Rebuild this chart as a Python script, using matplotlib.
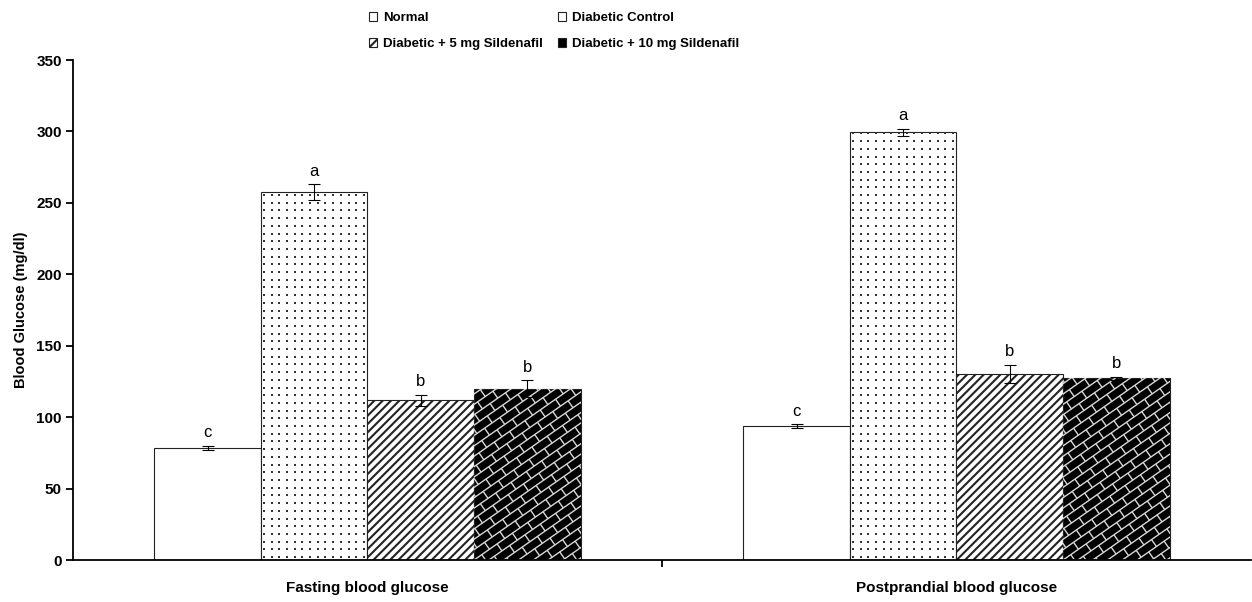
import numpy as np
import matplotlib
matplotlib.use("Agg")
import matplotlib.pyplot as plt
from matplotlib.collections import LineCollection
from matplotlib.transforms import IdentityTransform

plt.rcParams['font.family'] = ['Liberation Sans', 'DejaVu Sans']
plt.rcParams['hatch.linewidth'] = 1.5

groups = ['Fasting blood glucose', 'Postprandial blood glucose']
treatments = ['Normal', 'Diabetic Control',
              'Diabetic + 5 mg Sildenafil', 'Diabetic + 10 mg Sildenafil']

# mean blood glucose (mg/dl) and SE per treatment, [fasting, postprandial]
normal = [78.5, 93.8]
normal_se = [1.6, 1.3]
control = [257.5, 299.5]
control_se = [5.6, 2.4]
sild5 = [111.8, 130.2]
sild5_se = [3.9, 6.5]
sild10 = [119.8, 127.2]
sild10_se = [6.0, 1.1]
letters = [['c', 'c'], ['a', 'a'], ['b', 'b'], ['b', 'b']]

means = [normal, control, sild5, sild10]
errors = [normal_se, control_se, sild5_se, sild10_se]
hatches = [None, None, '////', None]
faces = ['white', 'white', 'white', 'black']


def dot_texture(ax, bar, step=7.7):
    # small dark dots on a square pixel grid, clipped to the bar
    bb = bar.get_window_extent()
    xs = np.arange(bb.x0 + 3, bb.x1, step)
    ys = np.arange(bb.y0 + 3, bb.y1, step)
    gx, gy = np.meshgrid(xs, ys)
    pts, = ax.plot(gx.ravel(), gy.ravel(), ls='none', marker='s', ms=1.5,
                   mew=0, color='#333333', transform=IdentityTransform(),
                   zorder=2.5)
    pts.set_clip_path(bar)


def brick_texture(ax, bar, step=8.5, angle=35):
    # white diagonal-brick lines drawn in pixel space, clipped to the bar
    bb = bar.get_window_extent()
    diag = np.hypot(bb.width, bb.height) + 4 * step
    a = np.deg2rad(angle)
    d = np.array([np.cos(a), np.sin(a)])
    nrm = np.array([-np.sin(a), np.cos(a)])
    origin = np.array([bb.x0, bb.y0])
    brick = 2.2 * step
    n = int(diag / step) + 2
    segs = []
    for k in range(-n, n + 1):
        p0 = origin + k * step * nrm
        segs.append([p0 - diag * d, p0 + diag * d])
        shift = (k % 2) * brick / 2
        for j in range(-n, n + 1):
            q = p0 + (j * brick + shift) * d
            segs.append([q, q + step * nrm])
    lc = LineCollection(segs, colors='#d8d8d8', linewidths=1.0,
                        transform=IdentityTransform(), zorder=2.5)
    ax.add_collection(lc, autolim=False)
    lc.set_clip_path(bar)


fig = plt.figure(figsize=(12.52, 6.02), dpi=100)
ax = fig.add_axes([73 / 1252, 42 / 602, 1178 / 1252, 500 / 602])

x = np.arange(len(groups))
width = 0.181
bar_sets = []
for i, name in enumerate(treatments):
    pos = x + (i - 1.5) * width
    bars = ax.bar(pos, means[i], width, color=faces[i], edgecolor='#222222',
                  linewidth=0.8, hatch=hatches[i], label=name, zorder=2)
    bar_sets.append(bars)
    ax.errorbar(pos, means[i], yerr=errors[i], fmt='none', ecolor='black',
                elinewidth=0.8, capsize=4, capthick=0.8, zorder=4)
    for j in range(len(groups)):
        ax.annotate(letters[i][j], (pos[j], means[i][j] + errors[i][j]),
                    xytext=(0, 4), textcoords='offset points',
                    ha='center', va='bottom', fontsize=12)

ax.set_xlim(-0.5, 1.5)
ax.set_ylim(0, 350)
ax.set_yticks(np.arange(0, 351, 50))

for bar in bar_sets[1]:
    dot_texture(ax, bar)
for bar in bar_sets[3]:
    brick_texture(ax, bar)

ax.spines['top'].set_visible(False)
ax.spines['right'].set_visible(False)
ax.spines['left'].set_linewidth(1.3)
ax.spines['bottom'].set_linewidth(1.3)

ax.set_xticks([0.5])
ax.set_xticklabels([''])
ax.set_xticks(x, minor=True)
ax.set_xticklabels(groups, minor=True, fontsize=11, fontweight='bold')
ax.tick_params(axis='x', which='major', direction='out', length=5, width=1.3)
ax.tick_params(axis='x', which='minor', length=0, pad=15)
ax.tick_params(axis='y', direction='out', length=5, width=1.3, pad=3,
               labelsize=11)
for lab in ax.get_yticklabels():
    lab.set_fontweight('bold')

ax.set_ylabel('Blood Glucose (mg/dl)', fontsize=10.5, fontweight='bold',
              labelpad=6)

# legend filled row by row: Normal, Control / 5 mg, 10 mg
handles, labels = ax.get_legend_handles_labels()
order = [0, 2, 1, 3]
fig.legend([handles[k] for k in order], [labels[k] for k in order],
           loc='upper left', bbox_to_anchor=(0.285, 1.0), ncol=2,
           frameon=False, prop={'size': 9.5, 'weight': 'bold'},
           handlelength=0.65, handleheight=0.65, handletextpad=0.45,
           columnspacing=1.1, labelspacing=1.1)

fig.savefig('out.png', dpi=100)
